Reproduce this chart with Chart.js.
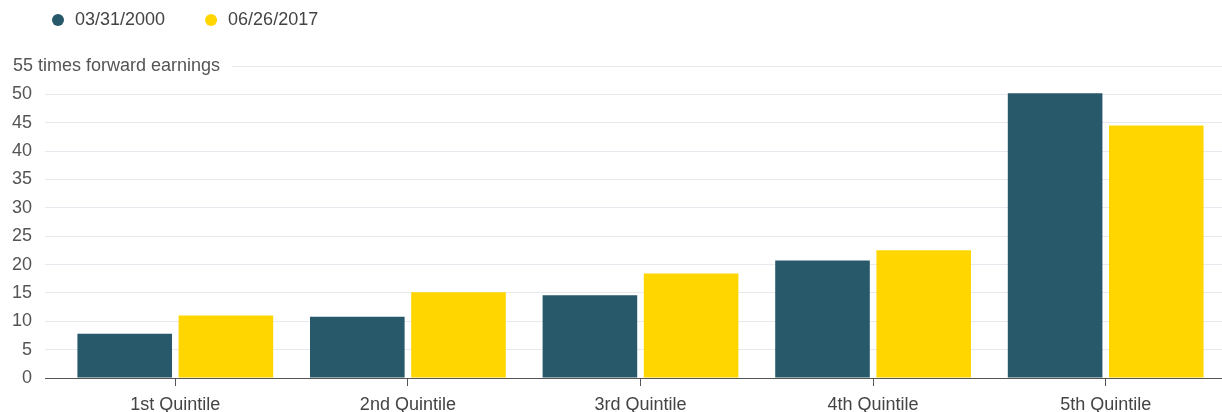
<!DOCTYPE html>
<html><head><meta charset="utf-8">
<script src="https://cdn.jsdelivr.net/npm/chart.js@4/dist/chart.umd.min.js"></script>
<style>html,body{margin:0;padding:0;background:#fff}#wrap{width:1222px;height:412px;position:relative}</style>
</head><body><div id="wrap"><canvas id="c"></canvas></div>
<script>
const categories = ['1st Quintile', '2nd Quintile', '3rd Quintile', '4th Quintile', '5th Quintile'];
const seriesNames = ['03/31/2000', '06/26/2017'];
const values2000 = [7.8, 10.8, 14.6, 20.7, 50.2];
const values2017 = [11.0, 15.1, 18.4, 22.5, 44.5];
const yTicks = [0, 5, 10, 15, 20, 25, 30, 35, 40, 45, 50, 55];
const topTickLabel = '55 times forward earnings';

const FONT = 'Liberation Sans, Arial, sans-serif';
const GRID = '#e6e9ee';
const AXIS = '#555';

const extras = {
  id: 'extras',
  afterLayout(chart) {
    const lg = chart.legend;
    if (lg) { lg.left += 12; lg.right += 12; lg.top -= 27; lg.bottom -= 27; }
  },
  afterDraw(chart) {
    const y = chart.scales.y, ctx = chart.ctx;
    const py = y.getPixelForValue(yTicks[yTicks.length - 1]);
    ctx.save();
    ctx.font = '18px ' + FONT;
    ctx.fillStyle = '#555';
    ctx.textBaseline = 'middle';
    ctx.textAlign = 'left';
    ctx.fillText(topTickLabel, 13, py);
    ctx.strokeStyle = GRID; ctx.lineWidth = 1;
    ctx.beginPath(); ctx.moveTo(232, Math.round(py) + 0.5); ctx.lineTo(chart.chartArea.right, Math.round(py) + 0.5); ctx.stroke();
    ctx.restore();
  }
};

new Chart(document.getElementById('c'), {
  type: 'bar',
  data: {
    labels: categories,
    datasets: [
      { label: seriesNames[0], data: values2000, backgroundColor: '#27596b' },
      { label: seriesNames[1], data: values2017, backgroundColor: '#ffd600' }
    ]
  },
  options: {
    responsive: true, maintainAspectRatio: false, animation: false,
    layout: { padding: { left: 0, right: 0, top: 0, bottom: 0 } },
    datasets: { bar: { categoryPercentage: 0.87, barPercentage: 0.935 } },
    plugins: {
      legend: {
        align: 'start',
        labels: { usePointStyle: true, pointStyle: 'circle', boxWidth: 16, boxHeight: 8.5, padding: 38, color: '#444', font: { family: FONT, size: 18 } }
      },
      tooltip: { enabled: false }
    },
    scales: {
      x: {
        afterFit(s) { s.height = 34; },
        grid: { offset: false, drawOnChartArea: false, drawTicks: true, tickLength: 8, color: AXIS },
        border: { display: true, color: AXIS, width: 1 },
        ticks: { color: '#444', padding: 8, font: { family: FONT, size: 18 }, maxRotation: 0 }
      },
      y: {
        min: 0, max: 55,
        afterFit(s) { s.width = 59; },
        afterBuildTicks(s) { s.ticks = yTicks.map(v => ({ value: v })); },
        grid: {
          color: c => c.tick && c.tick.value === 0 ? AXIS : (c.tick && c.tick.value === 55 ? 'rgba(0,0,0,0)' : GRID),
          tickColor: c => c.tick && c.tick.value === 0 ? AXIS : (c.tick && c.tick.value === 55 ? 'rgba(0,0,0,0)' : GRID),
          drawTicks: true, tickLength: 14, lineWidth: 1
        },
        border: { display: false },
        ticks: { color: '#555', padding: 13, font: { family: FONT, size: 18 }, callback: v => v === 55 ? '' : String(v) }
      }
    }
  },
  plugins: [extras]
});
</script></body></html>
